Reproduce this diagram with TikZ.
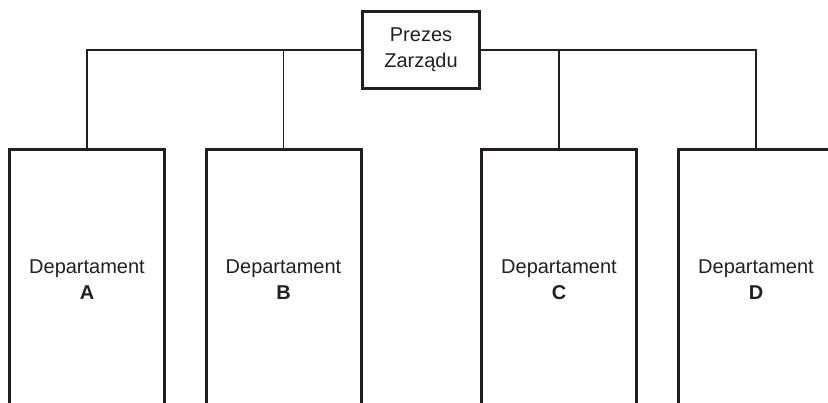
\documentclass[tikz,border=0pt]{standalone}
\usepackage{fontspec}
\setmainfont{Liberation Sans}
\definecolor{ink}{HTML}{231F20}
\begin{document}
\begin{tikzpicture}[x=1pt,y=-1pt,
  every node/.style={text=ink, font=\fontsize{20}{26}\selectfont, align=center, inner sep=0pt},
  bossbox/.style={draw=ink, line width=3pt, minimum width=117pt, minimum height=77pt},
  deptbox/.style={draw=ink, line width=3pt, minimum width=155pt, minimum height=260pt},
  link/.style={draw=ink, line width=1.5pt}]
  \useasboundingbox (0,0) rectangle (828,402);
  \clip (0,0) rectangle (828,402);

  % chairman of the board
  \node[bossbox] (boss) at (421,50) {Prezes\\Zarządu};

  % departments (open at the bottom edge)
  \node[deptbox] (a) at (87,279.5)  {Departament\\\textbf{A}};
  \node[deptbox] (b) at (283.5,279.5) {Departament\\\textbf{B}};
  \node[deptbox] (c) at (559,279.5) {Departament\\\textbf{C}};
  \node[deptbox] (d) at (756,279.5) {Departament\\\textbf{D}};

  % reporting lines
  \draw[link] (boss.west) -- (boss.west -| a.north) -- (a.north);
  \draw[link] (boss.west -| b.north) -- (b.north);
  \draw[link] (boss.east) -- (boss.east -| d.north) -- (d.north);
  \draw[link] (boss.east -| c.north) -- (c.north);
\end{tikzpicture}
\end{document}
